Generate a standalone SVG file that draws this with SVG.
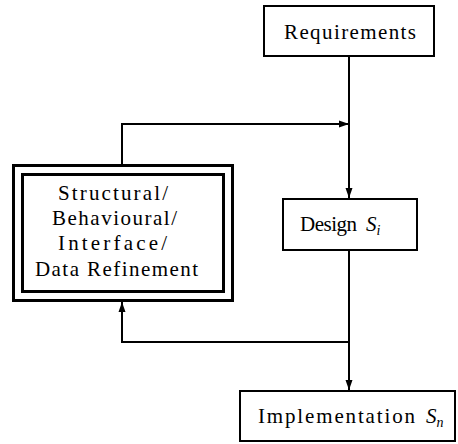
<svg xmlns="http://www.w3.org/2000/svg" width="458" height="444" viewBox="0 0 458 444">
<style>
.box{fill:#fff;stroke:#000;stroke-width:2}
.thick{fill:#fff;stroke:#000;stroke-width:3}
.t{font-family:"Liberation Serif","Times New Roman",serif;font-size:21px;fill:#000}
.c{fill:none;stroke:#000;stroke-width:2}
.i{font-style:italic}
</style>
<defs>
<marker id="ah" viewBox="0 0 10 10" refX="10" refY="5" markerWidth="10" markerHeight="10" markerUnits="userSpaceOnUse" orient="auto">
<path d="M0,1.5 L10,5 L0,8.5 Z" fill="#000"/>
</marker>
</defs>
<g id="connectors">
<line class="c" x1="349" y1="56" x2="349" y2="198" marker-end="url(#ah)"/>
<polyline class="c" points="122,164 122,124 349,124" marker-end="url(#ah)"/>
<line class="c" x1="349" y1="251" x2="349" y2="390" marker-end="url(#ah)"/>
<polyline class="c" points="349,342 122,342 122,302" marker-end="url(#ah)" stroke-width="2.5"/>
</g>
<g id="requirements">
<rect class="box" x="264" y="6" width="170" height="50"/>
<text class="t" x="284" y="39" textLength="132" lengthAdjust="spacing">Requirements</text>
</g>
<g id="refinement">
<rect class="thick" x="13.5" y="165.5" width="219" height="135"/>
<rect class="thick" x="22.5" y="174.5" width="201" height="117"/>
<text class="t" x="58" y="200" textLength="110" lengthAdjust="spacing">Structural/</text>
<text class="t" x="52" y="225" textLength="125" lengthAdjust="spacing">Behavioural/</text>
<text class="t" x="58" y="250" textLength="109" lengthAdjust="spacing">Interface/</text>
<text class="t" x="35" y="276" textLength="163" lengthAdjust="spacing">Data Refinement</text>
</g>
<g id="design">
<rect class="box" x="283" y="199" width="134" height="51"/>
<text class="t" x="300" y="231" textLength="57" lengthAdjust="spacing">Design</text>
<text class="t i" x="366" y="231">S<tspan font-size="14" dy="4">i</tspan></text>
</g>
<g id="implementation">
<rect class="box" x="240" y="391" width="215" height="50"/>
<text class="t" x="258" y="423" textLength="157" lengthAdjust="spacing">Implementation</text>
<text class="t i" x="426" y="423">S<tspan font-size="14" dy="4">n</tspan></text>
</g>
</svg>
